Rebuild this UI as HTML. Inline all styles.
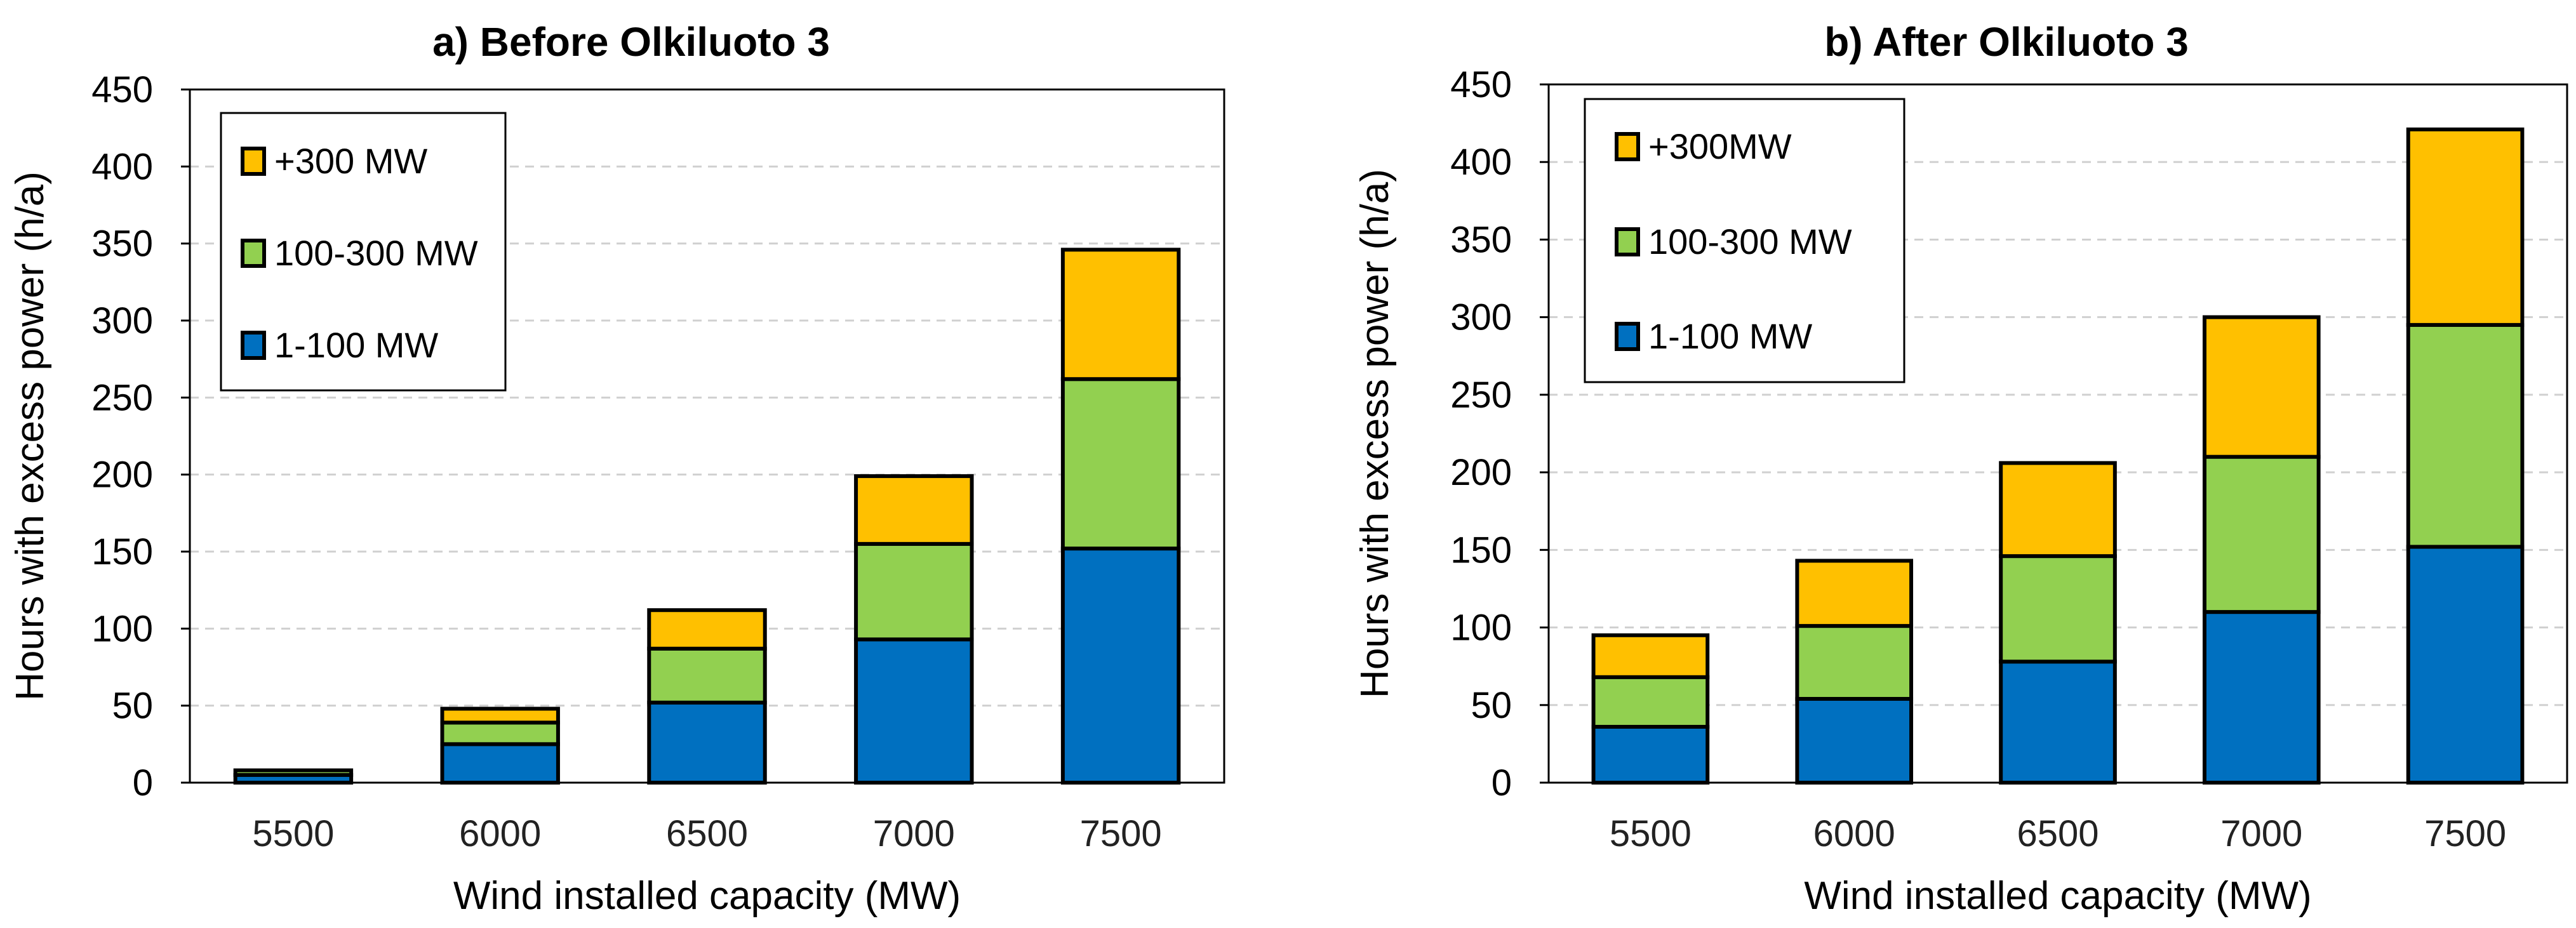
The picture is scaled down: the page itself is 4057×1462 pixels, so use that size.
<!DOCTYPE html>
<html><head><meta charset="utf-8"><style>
html,body{margin:0;padding:0;background:#fff}
svg{display:block;font-family:"Liberation Sans",sans-serif}
</style></head><body>
<svg id="c" width="4057" height="1462" viewBox="0 0 4057 1462" xmlns="http://www.w3.org/2000/svg"></svg>
<script>
const categories = ["5500","6000","6500","7000","7500"];
const yTicks = [0,50,100,150,200,250,300,350,400,450];
const seriesNames = ["1-100 MW","100-300 MW","+300 MW"];
const seriesNamesB = ["1-100 MW","100-300 MW","+300MW"];
const colors = ["#0070C0","#92D050","#FFC000"];
// panel a (segment values)
const aLow = [5,25,52,93,152];
const aMid = [3,14,35,62,110];
const aHigh = [0,9,25,44,84];
// panel b
const bLow = [36,54,78,110,152];
const bMid = [32,47,68,100,143];
const bHigh = [27,42,60,90,126];

const NS="http://www.w3.org/2000/svg";
const svg=document.getElementById('c');
function mk(tag,attrs,parent){const e=document.createElementNS(NS,tag);for(const k in attrs)e.setAttribute(k,attrs[k]);(parent||svg).appendChild(e);return e;}

function panel(p){
  const g=mk('g',{});
  
  
  const x0=p.x0,x1=p.x1,yTop=p.yTop,yBot=p.yBot,max=450;
  const yS=v=>yBot-(v/max)*(yBot-yTop);
  const cw=(x1-x0)/categories.length,bw=cw*0.56;
  const xS=i=>x0+cw*(i+0.5);
  // gridlines
  yTicks.forEach(t=>{ if(t===0||t===450) return;
    const l=mk('line',{x1:x0,x2:x1,y1:yS(t),y2:yS(t),stroke:'#d0d0d0','stroke-width':3,'stroke-dasharray':'14 10'},g);
    
    
  });
  // plot frame
  const fr=mk('rect',{x:x0,y:yTop,width:x1-x0,height:yBot-yTop,fill:'none',stroke:'#000','stroke-width':3},g);
  
  
  // y ticks
  yTicks.forEach(t=>{
    mk('line',{x1:x0-14,x2:x0,y1:yS(t),y2:yS(t),stroke:'#000','stroke-width':3},g);
    const tx=mk('text',{x:x0-58,y:yS(t)+20,'text-anchor':'end','font-size':58,fill:'#000'},g);
    tx.textContent=t;
    
    
  });
  // bars
  const series=p.series;
  categories.forEach((c,i)=>{
    let base=0;
    series.forEach((s,k)=>{
      const v=s[i]; if(v<=0){return;}
      const r=mk('rect',{x:xS(i)-bw/2,y:yS(base+v),width:bw,height:yS(base)-yS(base+v),fill:colors[k],stroke:'#000','stroke-width':6},g);
      
      
      base+=v;
    });
    const tx=mk('text',{x:xS(i),y:yBot+100,'text-anchor':'middle','font-size':58,fill:'#222'},g);
    tx.textContent=c;
    
    
  });
  // titles
  const tt=mk('text',{x:p.titleX,y:88,'text-anchor':'middle','font-size':64,'font-weight':'bold',fill:'#000'},g);
  tt.textContent=p.title;
  
  
  const xt=mk('text',{x:(x0+x1)/2,y:1432,'text-anchor':'middle','font-size':62,fill:'#000'},g);
  xt.textContent='Wind installed capacity (MW)';
  
  
  const ycx=p.yTitleX,ycy=(yTop+yBot)/2;
  const yt=mk('text',{x:ycx,y:ycy,'text-anchor':'middle','font-size':62,fill:'#000',transform:`rotate(-90 ${ycx} ${ycy})`},g);
  yt.textContent='Hours with excess power (h/a)';
  
  
  // legend
  const L=p.legend;
  const lb=mk('rect',{x:L.x,y:L.y,width:L.w,height:L.h,fill:'#fff',stroke:'#000','stroke-width':3},g);
  
  
  [2,1,0].forEach((k,j)=>{
    const cy=L.rows[j];
    const sw=mk('rect',{x:L.sx,y:cy-19,width:34,height:40,fill:colors[k],stroke:'#000','stroke-width':6},g);
    
    
    const t=mk('text',{x:L.sx+50,y:cy+20,'font-size':56,fill:'#000'},g);
    t.textContent=p.names[k];
    
    
  });
}
panel({id:'panel-a',x0:299,x1:1928,yTop:141,yBot:1233,title:'a) Before Olkiluoto 3',titleX:994,yTitleX:68,
  series:[aLow,aMid,aHigh],names:seriesNames,
  legend:{x:348,y:178,w:448,h:437,sx:382,rows:[253,398,543]}});
panel({id:'panel-b',x0:2439,x1:4043,yTop:133,yBot:1233,title:'b) After Olkiluoto 3',titleX:3160,yTitleX:2186,
  series:[bLow,bMid,bHigh],names:seriesNamesB,
  legend:{x:2496,y:156,w:503,h:446,sx:2546,rows:[230,380,529]}});
</script>
</body></html>
